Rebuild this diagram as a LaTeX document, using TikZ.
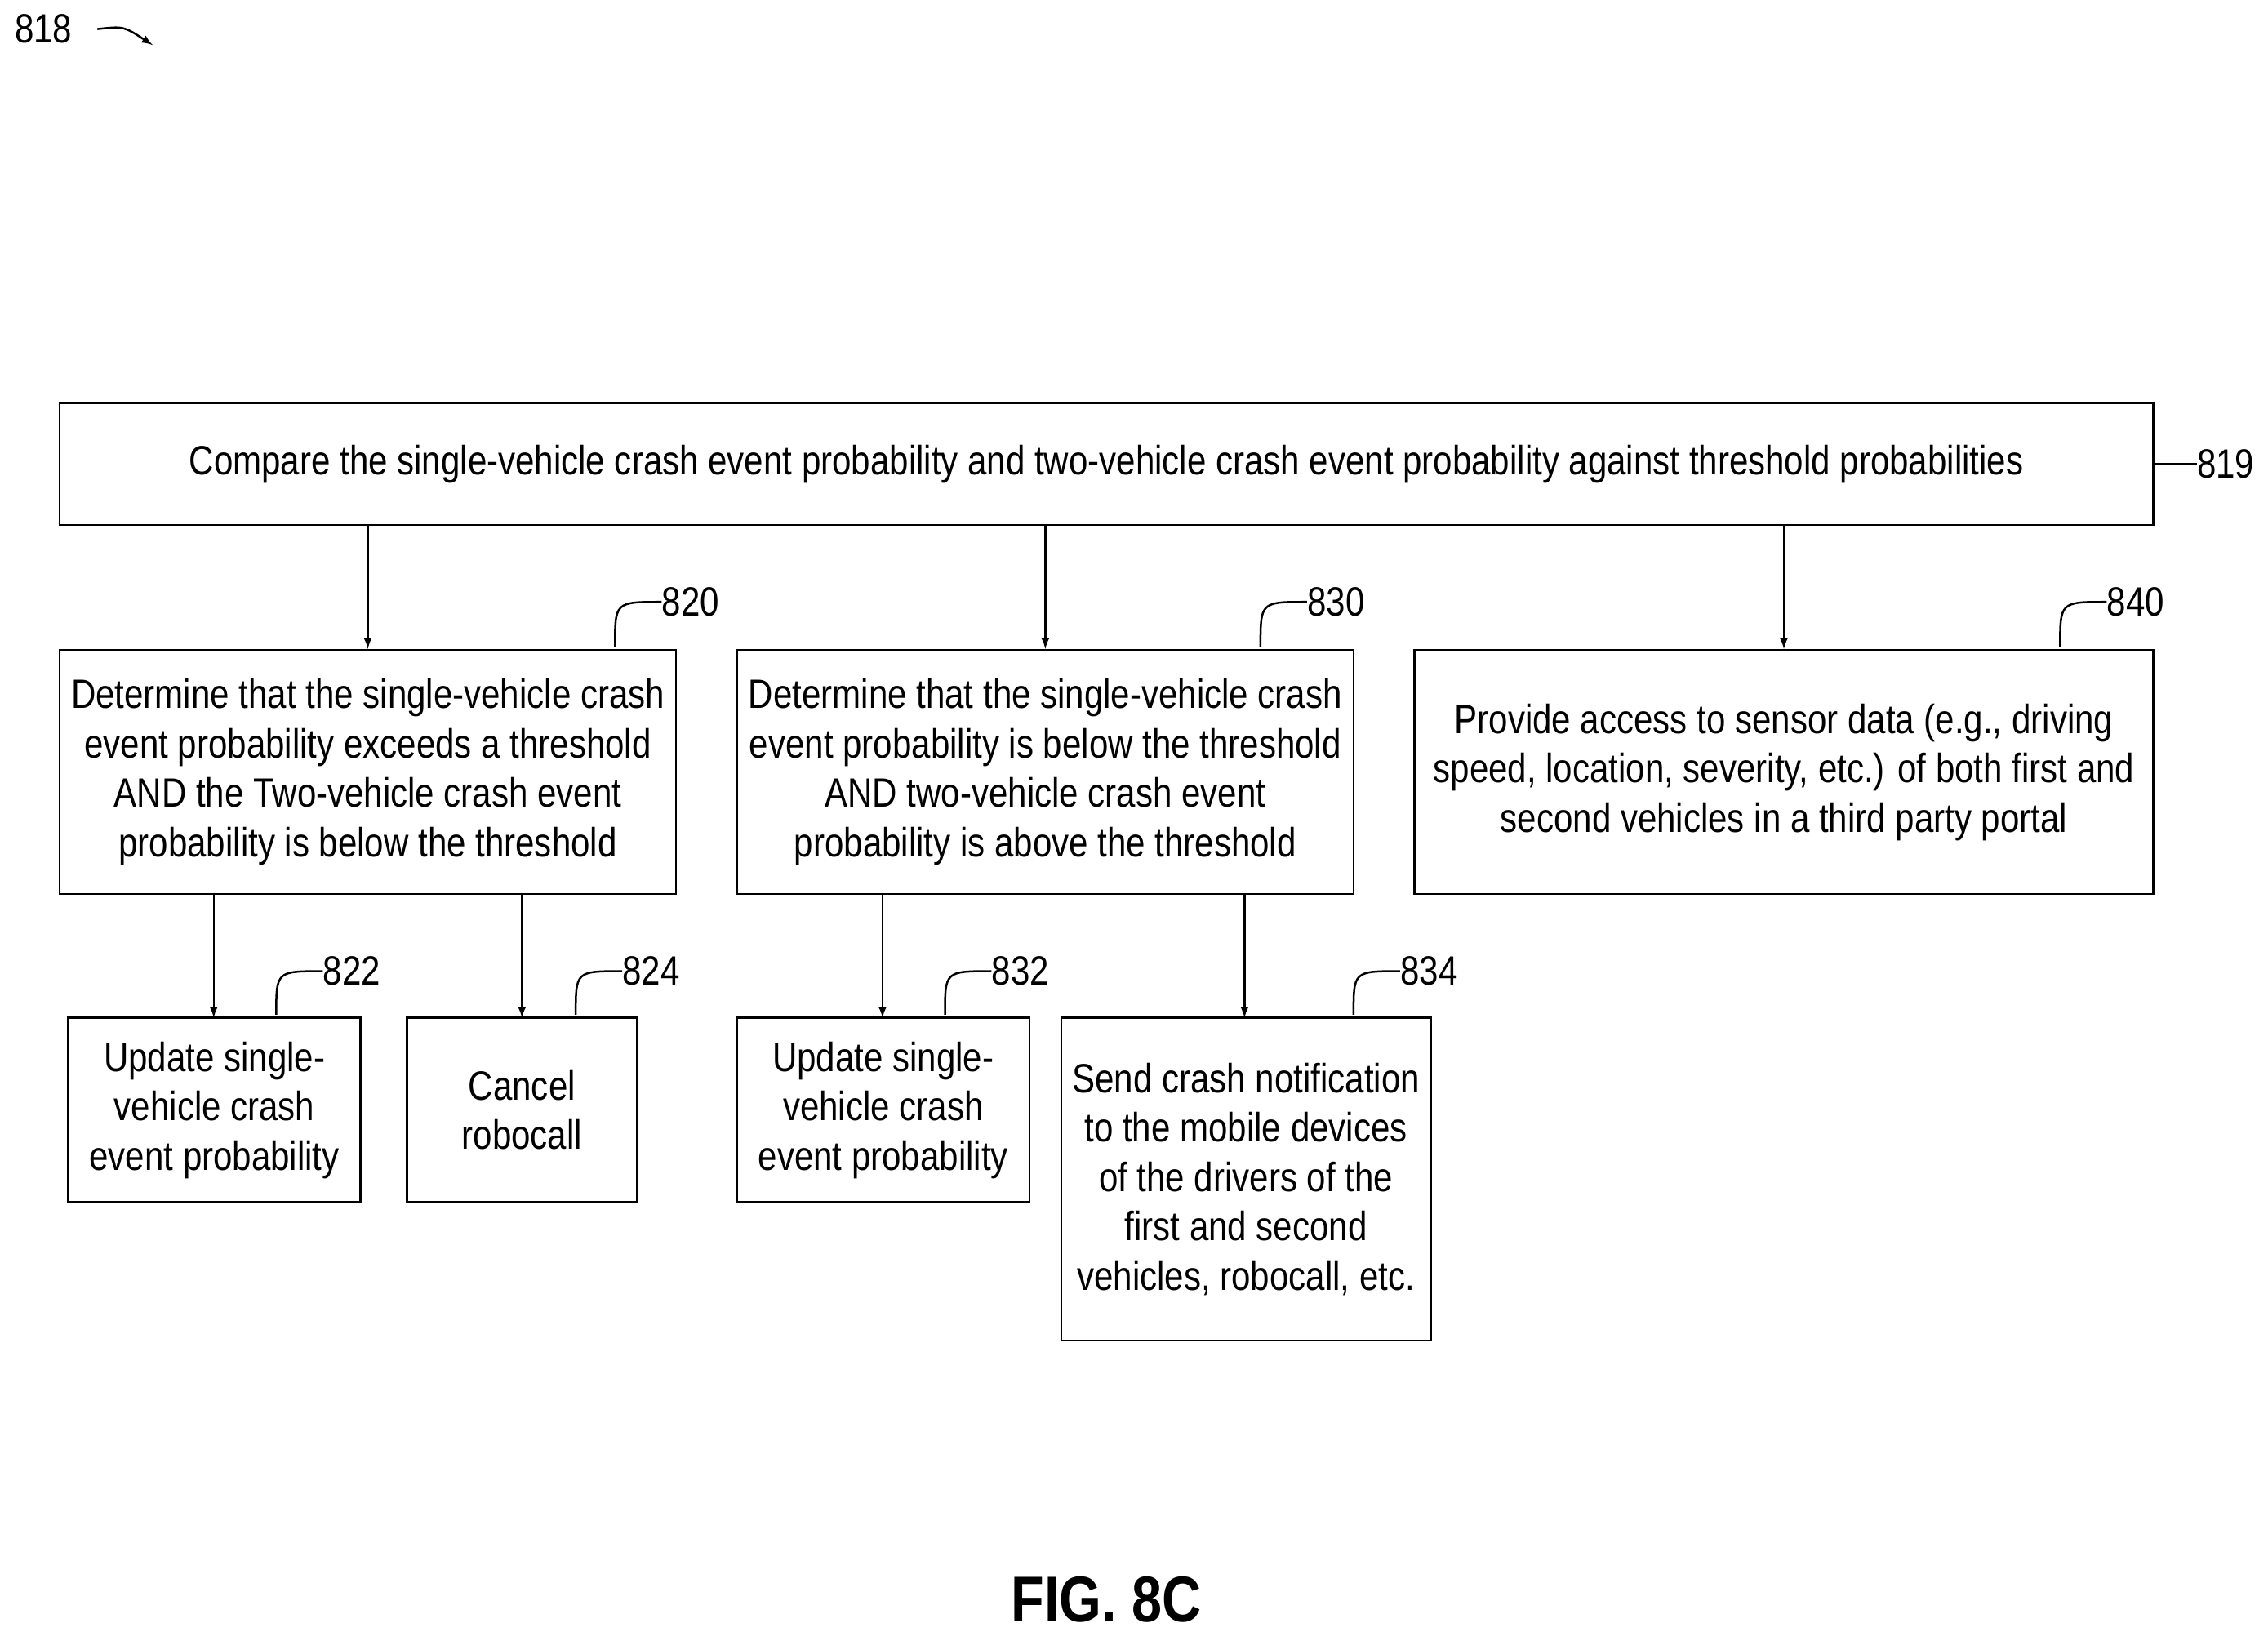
\documentclass[tikz,border=0pt]{standalone}
\usepackage{fontspec}
\setmainfont{Liberation Sans}[FakeStretch=0.84]
\begin{document}
\begin{tikzpicture}[x=0.03cm,y=-0.03cm,
  box/.style={draw,line width=1.2pt,inner sep=0pt,align=center,font=\fontsize{24}{29}\selectfont},
  arr/.style={-latex,line width=1.2pt},
  lead/.style={line width=1.2pt},
  num/.style={font=\fontsize{24}{29}\selectfont,anchor=west,inner sep=0pt}]
\useasboundingbox (0,0) rectangle (1560,1122);
\node[box,minimum width=1440*0.03cm,minimum height=84*0.03cm] (b819) at (761,319) {Compare the single-vehicle crash event probability and two-vehicle crash event probability against threshold probabilities};
\node[box,minimum width=424*0.03cm,minimum height=168*0.03cm] (b820) at (253,531) {Determine that the single-vehicle crash\\event probability exceeds a threshold\\AND the Two-vehicle crash event\\probability is below the threshold};
\node[box,minimum width=424*0.03cm,minimum height=168*0.03cm] (b830) at (719,531) {Determine that the single-vehicle crash\\event probability is below the threshold\\AND two-vehicle crash event\\probability is above the threshold};
\node[box,minimum width=508*0.03cm,minimum height=168*0.03cm] (b840) at (1227,531) {Provide access to sensor data (e.g., driving\\speed, location, severity, etc.) of both first and\\second vehicles in a third party portal};
\node[box,minimum width=201*0.03cm,minimum height=127*0.03cm] (b822) at (147.5,763.5) {Update single-\\vehicle crash\\event probability};
\node[box,minimum width=158*0.03cm,minimum height=127*0.03cm] (b824) at (359,763.5) {Cancel\\robocall};
\node[box,minimum width=201*0.03cm,minimum height=127*0.03cm] (b832) at (607.5,763.5) {Update single-\\vehicle crash\\event probability};
\node[box,minimum width=254*0.03cm,minimum height=222*0.03cm] (b834) at (857,811) {Send crash notification\\to the mobile devices\\of the drivers of the\\first and second\\vehicles, robocall, etc.};
\draw[arr] (253,361) -- (b820.north -| 253,0);
\draw[arr] (719,361) -- (b830.north);
\draw[arr] (1227,361) -- (b840.north);
\draw[arr] (147,615) -- (147,700);
\draw[arr] (359,615) -- (359,700);
\draw[arr] (607,615) -- (607,700);
\draw[arr] (856,615) -- (856,700);
% labels
\node[num] (n819) at (1511,319) {819};
\draw[lead] (b819.east) .. controls (1492,319) and (1490,319) .. (n819.west);
\foreach \n/\x/\y/\bx/\by in {820/455/414/423/445, 830/899/414/867/445, 840/1449/414/1417/445, 822/222/668/190/698, 824/428/668/396/698, 832/682/668/650/698, 834/963/668/931/698}{
  \node[num] (n\n) at (\x,\y) {\n};
  \draw[lead] (\bx,\by) .. controls (\bx,\y) .. (n\n.west);
}
\node[num] (n818) at (10,20) {818};
\coordinate (a818) at (105,31);
\draw[lead,-latex] (67,20) .. controls (85,18) .. (a818);
\node[font=\fontsize{38}{44}\selectfont\bfseries] (fig) at (761,1100) {FIG. 8C};
\end{tikzpicture}
\end{document}
